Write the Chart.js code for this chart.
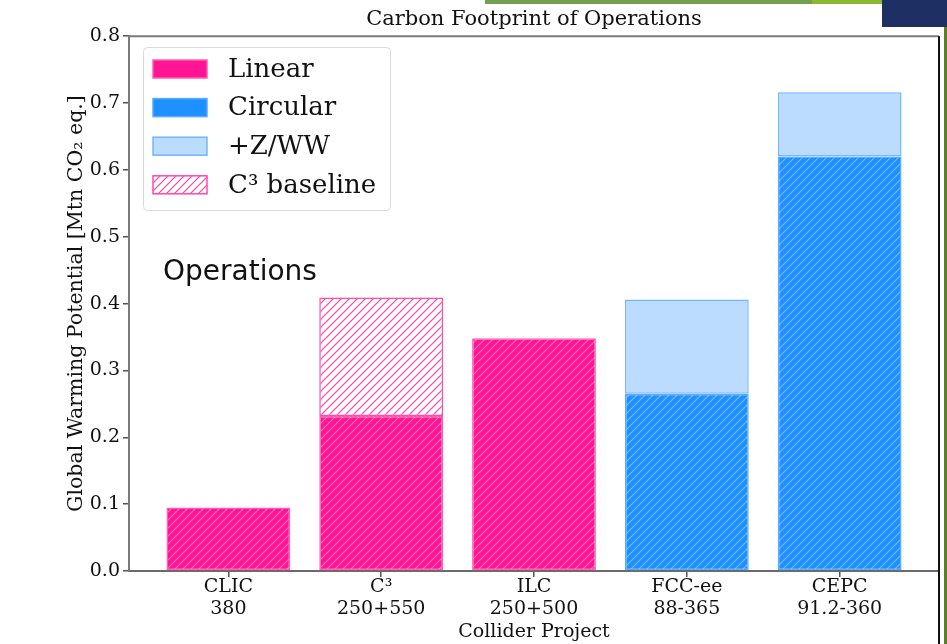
<!DOCTYPE html>
<html>
<head>
<meta charset="utf-8">
<script src="https://cdn.jsdelivr.net/npm/chart.js@4/dist/chart.umd.min.js"></script>
<style>
  body { margin: 0; background: #fff; }
  #wrap { position: relative; width: 947px; height: 644px; overflow: hidden; background: #fff; }
  #wrap canvas { position: absolute; left: 0; top: 0; }
  .deco { position: absolute; }
</style>
</head>
<body>
<div id="wrap">
  <canvas id="chart" width="947" height="644"></canvas>
  <!-- bits of the slide around the figure -->
  <div class="deco" style="left:485px;top:0;width:327px;height:4px;background:#73a050"></div>
  <div class="deco" style="left:812px;top:0;width:70px;height:4px;background:#8cb832"></div>
  <div class="deco" style="left:882px;top:0;width:65px;height:27px;background:#1d2f63"></div>
  <div class="deco" style="left:944px;top:27px;width:3px;height:617px;background:#5f7d22"></div>
</div>
<script>
// categories (two line tick labels)
var projects = [['CLIC', '380'], ['C³', '250+550'], ['ILC', '250+500'], ['FCC-ee', '88-365'], ['CEPC', '91.2-360']];

// values in Mtn CO2 eq., stacked
var linear     = [0.095, 0.232, 0.348, null, null];
var circular   = [null, null, null, 0.265, 0.620];
var zww        = [null, null, null, 0.141, 0.096];   // on top of circular
var c3Baseline = [null, 0.177, null, null, null];    // on top of linear

var yTicks = [0, 0.1, 0.2, 0.3, 0.4, 0.5, 0.6, 0.7, 0.8];

var PINK = '#ff1493';
var BLUE = '#1e90ff';
var LIGHTBLUE = '#bbdcfd';

// diagonal hatch "////"
function hatch(bg, line) {
    var c = document.createElement('canvas');
    c.width = 8; c.height = 8;
    var g = c.getContext('2d');
    if (bg) { g.fillStyle = bg; g.fillRect(0, 0, 8, 8); }
    g.strokeStyle = line;
    g.lineWidth = 1.2;
    g.beginPath();
    g.moveTo(-1, 9); g.lineTo(9, -1);
    g.moveTo(-5, 5); g.lineTo(5, -5);
    g.moveTo(3, 13); g.lineTo(13, 3);
    g.stroke();
    return g.createPattern(c, 'repeat');
}

function points(arr) {
    var out = [];
    arr.forEach(function (v, i) { if (v !== null) out.push({ x: i, y: v }); });
    return out;
}

// legend drawn inside the plot, matplotlib style
var innerLegend = {
    id: 'innerLegend',
    afterDatasetsDraw: function (chart) {
        var ctx = chart.ctx;
        var x = 143, y = 47, w = 247, h = 163;
        ctx.save();
        ctx.fillStyle = 'rgba(255,255,255,0.85)';
        ctx.strokeStyle = '#d9d9d9';
        ctx.lineWidth = 1;
        ctx.beginPath();
        ctx.roundRect(x + 0.5, y + 0.5, w, h, 4);
        ctx.fill();
        ctx.stroke();
        ctx.font = '26px "DejaVu Serif"';
        ctx.textBaseline = 'middle';
        chart.data.datasets.forEach(function (ds, i) {
            var cy = 69 + i * 38.6;
            ctx.fillStyle = ds.legendFill || ds.backgroundColor;
            ctx.fillRect(153, cy - 9, 54, 18);
            ctx.strokeStyle = ds.borderColor;
            ctx.lineWidth = 1.5;
            ctx.strokeRect(153, cy - 9, 54, 18);
            ctx.fillStyle = '#111';
            ctx.fillText(ds.label, 228, cy + 1);
        });
        ctx.restore();
    }
};

// full frame around the axes + slide text
var frame = {
    id: 'frame',
    afterDraw: function (chart) {
        var a = chart.chartArea, ctx = chart.ctx;
        ctx.save();
        ctx.strokeStyle = '#7a7a7a';
        ctx.lineWidth = 2;
        ctx.beginPath();
        ctx.moveTo(a.left, a.bottom);
        ctx.lineTo(a.left, a.top);
        ctx.lineTo(a.right, a.top);
        ctx.stroke();
        ctx.strokeStyle = '#111';
        ctx.beginPath();
        ctx.moveTo(a.right, a.top);
        ctx.lineTo(a.right, 644);
        ctx.stroke();
        ctx.fillStyle = '#111';
        ctx.font = '28px "DejaVu Sans"';
        ctx.textBaseline = 'middle';
        ctx.fillText('Operations', 163, 273);
        ctx.restore();
    }
};

var ctx = document.getElementById('chart').getContext('2d');
var chart = new Chart(ctx, {
    type: 'bar',
    data: {
        datasets: [{
            label: 'Linear',
            data: points(linear),
            backgroundColor: hatch(PINK, 'rgba(255,255,255,0.38)'),
            legendFill: PINK,
            borderColor: '#ff5db1',
            borderWidth: 1.5
        }, {
            label: 'Circular',
            data: points(circular),
            backgroundColor: hatch(BLUE, 'rgba(255,255,255,0.38)'),
            legendFill: BLUE,
            borderColor: '#5aabff',
            borderWidth: 1.5
        }, {
            label: '+Z/WW',
            data: points(zww),
            backgroundColor: LIGHTBLUE,
            borderColor: '#72b6ff',
            borderWidth: 1.5
        }, {
            label: 'C³ baseline',
            data: points(c3Baseline),
            backgroundColor: hatch('#fff', '#ff3fa6'),
            borderColor: '#ff4aab',
            borderWidth: 1.5
        }]
    },
    options: {
        responsive: false,
        animation: false,
        barPercentage: 0.81,
        categoryPercentage: 1,
        borderSkipped: false,
        layout: { padding: { left: 0, right: 8, top: 0, bottom: 0 } },
        plugins: {
            legend: { display: false },
            tooltip: { enabled: false },
            title: {
                display: true,
                fullSize: false,
                text: 'Carbon Footprint of Operations',
                color: '#111',
                font: { family: 'DejaVu Serif', size: 21, weight: 'normal', lineHeight: 1.2 },
                padding: { top: 7, bottom: 4 }
            }
        },
        scales: {
            x: {
                type: 'linear',
                stacked: true,
                offset: false,
                min: -0.65,
                max: 4.65,
                afterBuildTicks: function (axis) {
                    axis.ticks = projects.map(function (p, i) { return { value: i }; });
                },
                afterFit: function (axis) { axis.height = 73; },
                ticks: {
                    callback: function (v) { return projects[v]; },
                    color: '#111',
                    font: { family: 'DejaVu Serif', size: 19, lineHeight: 1.16 },
                    padding: -1,
                    maxRotation: 0,
                    autoSkip: false
                },
                grid: { offset: false, drawOnChartArea: false, tickLength: 6, color: '#555', lineWidth: 1.5 },
                border: { color: '#6a6a6a', width: 2 },
                title: {
                    display: true,
                    text: 'Collider Project',
                    color: '#111',
                    font: { family: 'DejaVu Serif', size: 19, lineHeight: 1.2 },
                    padding: { top: 0, bottom: 1 }
                }
            },
            y: {
                stacked: true,
                min: 0,
                max: 0.8,
                afterBuildTicks: function (axis) {
                    axis.ticks = yTicks.map(function (v) { return { value: v }; });
                },
                afterFit: function (axis) { axis.width = 129; },
                ticks: {
                    callback: function (v) { return v.toFixed(1); },
                    color: '#111',
                    font: { family: 'DejaVu Serif', size: 19 },
                    padding: 3
                },
                grid: { drawOnChartArea: false, tickLength: 6, color: '#555', lineWidth: 1.5 },
                border: { color: '#7a7a7a', width: 2 },
                title: {
                    display: true,
                    text: 'Global Warming Potential [Mtn CO₂ eq.]',
                    color: '#111',
                    font: { family: 'DejaVu Serif', size: 20.5, lineHeight: 1.2 },
                    padding: { top: 64, bottom: 0 }
                }
            }
        }
    },
    plugins: [innerLegend, frame]
});
</script>
</body>
</html>
